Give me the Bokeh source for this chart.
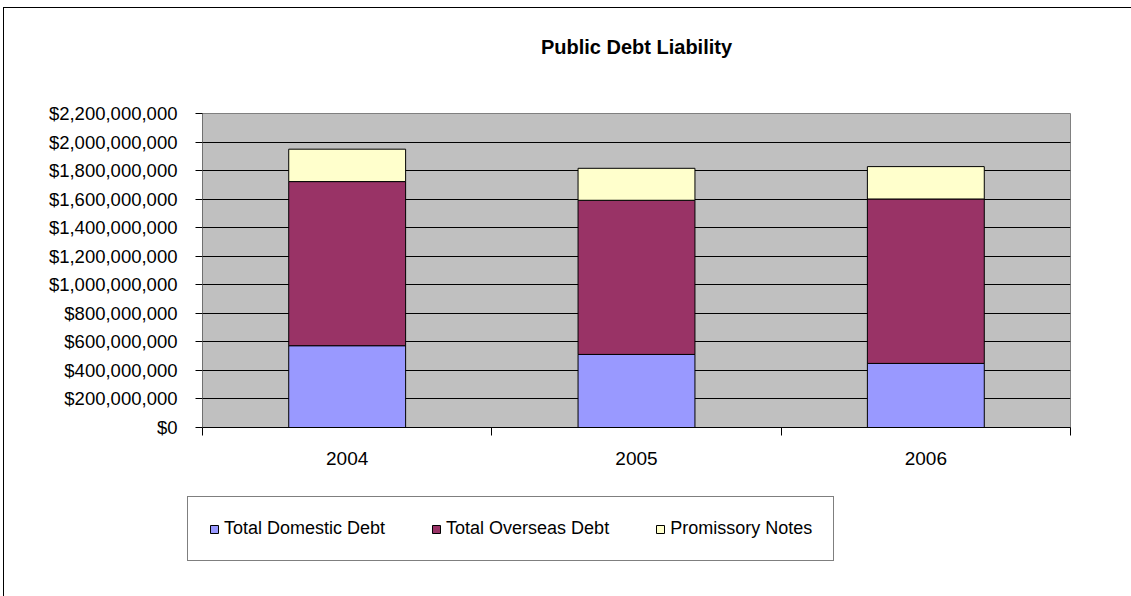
from bokeh.plotting import figure
from bokeh.layouts import column
from bokeh.models import (ColumnDataSource, FixedTicker, NumeralTickFormatter, Range1d,
                          Legend, LegendItem, Title)
from bokeh.embed import file_html
from bokeh.resources import INLINE

# ---- data ----
years = ["2004", "2005", "2006"]
domestic = [573e6, 512e6, 449e6]
overseas = [1150e6, 1080e6, 1152e6]
promissory = [227e6, 224e6, 227e6]
series_names = ["Total Domestic Debt", "Total Overseas Debt", "Promissory Notes"]
series_colors = ["#9999FF", "#993366", "#FFFFCC"]
y_ticks = [i * 200_000_000 for i in range(12)]
stack_keys = ["domestic", "overseas", "promissory"]
chart_title = "Public Debt Liability"

FONT = "Liberation Sans"
LINE = "linear-gradient(#000, #000)"

x_pos = [i + 1 for i in range(len(years))]
source = ColumnDataSource(dict(x=x_pos, domestic=domestic, overseas=overseas, promissory=promissory))

# ---------------- main chart ----------------
p = figure(width=1131, height=480, output_backend="svg", toolbar_location=None, title=None,
           x_range=Range1d(0.5, len(years) + 0.5), y_range=Range1d(0, 2.2e9),
           min_border_left=202, min_border_right=61, min_border_top=113, min_border_bottom=53)

spacer = Title(text=" ", text_font_size="1px", standoff=48)
main_title = Title(text=chart_title, align="center", text_font=FONT, text_font_size="20px",
                   text_font_style="bold", text_color="black", standoff=10)
p.add_layout(spacer, "above")
p.add_layout(main_title, "above")

p.background_fill_color = "#C0C0C0"
p.border_fill_alpha = 0
p.outline_line_color = "#808080"
p.outline_line_width = 1
p.styles = {
    "background-color": "white",
    "background-image": f"{LINE}, {LINE}",
    "background-size": "100% 1px, 1px 100%",
    "background-position": "3px 7px, 3px 7px",
    "background-repeat": "no-repeat",
}

rs = p.vbar_stack(stack_keys, x="x", width=0.404, source=source,
                  fill_color=series_colors, line_color="black", line_width=1)

p.xgrid.visible = False
p.ygrid.ticker = FixedTicker(ticks=y_ticks)
p.ygrid.grid_line_color = "black"
p.ygrid.grid_line_width = 1

p.yaxis.ticker = FixedTicker(ticks=y_ticks, minor_ticks=[])
p.yaxis.formatter = NumeralTickFormatter(format="$0,0")
p.yaxis.major_label_text_font = FONT
p.yaxis.major_label_text_font_size = "18.5px"
p.yaxis.major_label_text_color = "black"
p.yaxis.major_tick_out = 7
p.yaxis.major_tick_in = 0
p.yaxis.major_tick_line_color = "black"
p.yaxis.minor_tick_line_color = None
p.yaxis.axis_line_color = "#707070"
p.yaxis.major_label_standoff = 18

p.xaxis.ticker = FixedTicker(ticks=x_pos, minor_ticks=[i + 0.5 for i in range(len(years) + 1)])
p.xaxis.major_label_overrides = {x: y for x, y in zip(x_pos, years)}
p.xaxis.major_label_text_font = FONT
p.xaxis.major_label_text_font_size = "19px"
p.xaxis.major_label_text_color = "black"
p.xaxis.major_tick_out = 0
p.xaxis.major_tick_in = 0
p.xaxis.minor_tick_out = 8
p.xaxis.minor_tick_in = 0
p.xaxis.minor_tick_line_color = "black"
p.xaxis.axis_line_color = "black"
p.xaxis.major_label_standoff = 16

# ---------------- legend strip ----------------
q = figure(width=1131, height=116, output_backend="svg", toolbar_location=None, title=None,
           x_range=Range1d(10, 11), y_range=Range1d(3e9, 4e9), x_axis_type=None, y_axis_type=None,
           min_border_left=150, min_border_right=231, min_border_top=0, min_border_bottom=0)
q.background_fill_alpha = 0
q.border_fill_alpha = 0
q.outline_line_color = None
q.styles = {
    "background-color": "white",
    "background-image": LINE,
    "background-size": "1px 100%",
    "background-position": "3px 0px",
    "background-repeat": "no-repeat",
}
# legend proxies: same stacked series, lying outside this strip's visible ranges
qs = q.vbar_stack(stack_keys, x="x", width=0.4, source=source,
                  fill_color=series_colors, line_color="black", line_width=1)

legend_loc = (37, 35)
try:
    p.frame_align = False
    q.frame_align = False
except AttributeError:
    q.min_border_left = 0
    q.min_border_right = 61
    legend_loc = (0, 35)

items = [LegendItem(label=n, renderers=[r]) for n, r in zip(series_names, qs)]
legend = Legend(items=items, orientation="horizontal", location=legend_loc,
                label_text_font=FONT, label_text_font_size="18px", label_text_color="black",
                glyph_width=10, glyph_height=10, label_standoff=5, spacing=46,
                padding=21, margin=0, border_line_color="black", border_line_width=1,
                background_fill_color="white", background_fill_alpha=1)
q.add_layout(legend)

layout = column(p, q, spacing=0)
open("out.html", "w").write(file_html(layout, INLINE))
